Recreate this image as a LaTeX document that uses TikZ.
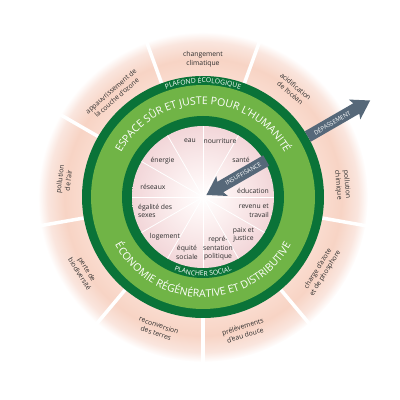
\documentclass[tikz,border=0pt]{standalone}
\usepackage{fontspec}
\setmainfont{Open Sans}
\usetikzlibrary{decorations.text}
\definecolor{dgreen}{RGB}{10,115,56}
\definecolor{lgreen}{RGB}{112,180,70}
\definecolor{slate}{RGB}{86,104,121}
\definecolor{txt}{RGB}{45,45,45}
\pgfdeclareradialshading{outerband}{\pgfpoint{0bp}{0bp}}{rgb(0bp)=(0.98,0.86,0.81); rgb(18.3bp)=(0.98,0.86,0.81); rgb(21bp)=(0.97,0.83,0.77); rgb(23.5bp)=(0.98,0.90,0.87); rgb(25bp)=(1,1,1); rgb(50bp)=(1,1,1)}
\pgfdeclareradialshading{innerdisc}{\pgfpoint{0bp}{0bp}}{rgb(0bp)=(1,1,1); rgb(8bp)=(0.99,0.95,0.95); rgb(25bp)=(0.95,0.84,0.85); rgb(50bp)=(0.95,0.84,0.85)}
\newcommand\ringbig{\fontsize{10.5}{12}\selectfont}
\newcommand\ringsmall{\fontsize{6.8}{8}\selectfont}
\begin{document}
\begin{tikzpicture}[x=1pt,y=1pt,
  lab/.style={text=txt, font=\fontsize{6.8}{8.6}\selectfont, align=center, inner sep=0pt},
  arrowlab/.style={text=white, font=\fontsize{6}{7}\selectfont, inner sep=0pt, rotate=30},
  outsep/.style={white, line width=3.5pt},
  insep/.style={white, line width=0.8pt}]
\useasboundingbox (0,0) rectangle (400,400);
\coordinate (C) at (203,203);
% outer band
\shade[shading=outerband] (C) circle[radius=165];
\foreach \a in {30,70,...,350}
  \draw[outsep] ([shift={(\a:121)}]C) -- ([shift={(\a:170)}]C);
% rings
\fill[dgreen] (C) circle[radius=121];
\fill[lgreen] (C) circle[radius=112];
\fill[dgreen] (C) circle[radius=81];
\shade[shading=innerdisc] (C) circle[radius=71];
\foreach \a in {0,30,...,330}
  \draw[insep] (C) -- ([shift={(\a:71)}]C);
% ring texts
\path[decorate, decoration={text along path, text align=center,
  text={|\ringbig\color{white}|ESPACE SÛR ET JUSTE POUR L'HUMANITÉ}}]
  ([shift={(170:92.8)}]C) arc[start angle=170, end angle=10, radius=92.8];
\path[decorate, decoration={text along path, text align=center,
  text={|\ringbig\color{white}|ÉCONOMIE RÉGÉNÉRATIVE ET DISTRIBUTIVE}}]
  ([shift={(190:100.3)}]C) arc[start angle=190, end angle=350, radius=100.3];
\path[decorate, decoration={text along path, text align=center,
  text={|\ringsmall\color{white}|PLAFOND ÉCOLOGIQUE}}]
  ([shift={(150:114)}]C) arc[start angle=150, end angle=30, radius=114];
\path[decorate, decoration={text along path, text align=center,
  text={|\ringsmall\color{white}|PLANCHER SOCIAL}}]
  ([shift={(210:79)}]C) arc[start angle=210, end angle=330, radius=79];
% outer labels
\node[lab, rotate=0]   (b1) at ([shift={(90:138)}]C)  {changement\\climatique};
\node[lab, rotate=-40] (b2) at ([shift={(50:140)}]C)  {acidification\\de l'océan};
\node[lab, rotate=-85] (b3) at ([shift={(5:140)}]C)   {pollution\\chimique};
\node[lab, rotate=58]  (b4) at ([shift={(328:140)}]C) {charge d'azote\\et de phosphore};
\node[lab, rotate=17]  (b5) at ([shift={(287:140)}]C) {prélèvements\\d'eau douce};
\node[lab, rotate=-19] (b6) at ([shift={(251:140)}]C) {reconversion\\des terres};
\node[lab, rotate=-58] (b7) at ([shift={(212:141)}]C) {perte de\\biodiversité};
\node[lab, rotate=83]  (b8) at ([shift={(173:140)}]C) {pollution\\de l'air};
\node[lab, rotate=41]  (b9) at ([shift={(131:136)}]C) {appauvrissement de\\la couche d'ozone};
% inner labels
\node[lab] (s1) at (190,259) {eau};
\node[lab] (s2) at (220,259) {nourriture};
\node[lab] (s3) at (241,240) {santé};
\node[lab] (s4) at (253,209) {éducation};
\node[lab, anchor=east, align=right] (s5) at (269,189.5) {revenu et\\travail};
\node[lab] (s6) at (243.5,165) {paix et\\justice};
\node[lab] (s7) at (218,151.5) {repré-\\sentation\\politique};
\node[lab] (s8) at (187,147.5) {équité\\sociale};
\node[lab] (s9) at (165,163) {logement};
\node[lab, anchor=west, align=left] (s10) at (138,189) {égalité des\\sexes};
\node[lab] (s11) at (153,213) {réseaux};
\node[lab] (s12) at (162.5,239) {énergie};
% arrows
\begin{scope}[shift={(C)}, rotate=30]
  \fill[slate] (121,-6) -- (177,-6) -- (175,-11.5) -- (193,0) -- (175,11.5) -- (177,6) -- (121,6) -- cycle;
  \fill[slate] (73,-6) -- (20,-6) -- (22,-11.5) -- (4,0) -- (22,11.5) -- (20,6) -- (73,6) -- cycle;
\end{scope}
\node[arrowlab] (dep) at ([shift={(30:149)}]C) {DÉPASSEMENT};
\node[arrowlab] (ins) at ([shift={(30:46.5)}]C) {INSUFFISANCE};
\end{tikzpicture}
\end{document}
